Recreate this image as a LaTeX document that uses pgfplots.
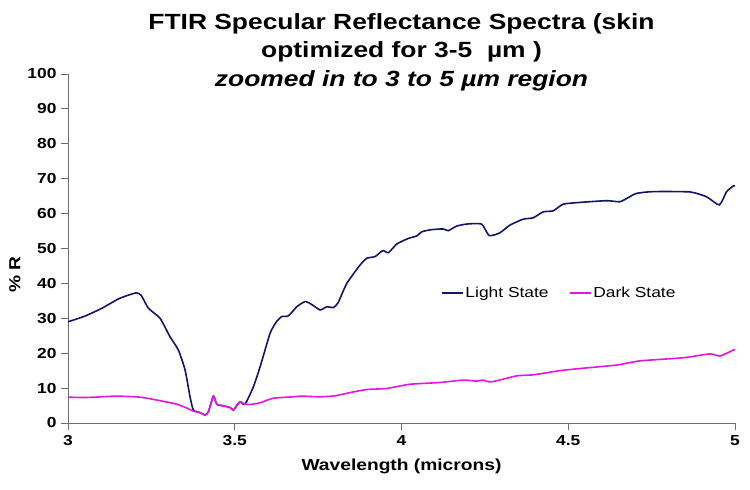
\documentclass[border=0pt]{standalone}
\usepackage{fontspec}
\setmainfont{Liberation Sans}[FakeStretch=1.2]
\usepackage{pgfplots}
\pgfplotsset{compat=1.18}
\definecolor{lightc}{RGB}{20,20,110}
\definecolor{darkc}{RGB}{230,20,230}
\definecolor{axc}{RGB}{110,110,110}
\begin{document}
\begin{tikzpicture}
\begin{axis}[
  name=ax,
  scale only axis,
  width=667pt, height=349pt,
  xmin=3, xmax=5, ymin=0, ymax=100,
  axis x line=bottom, axis y line=left,
  axis line style={-, axc, line width=0.8pt},
  tick style={axc, line width=0.8pt},
  tick align=outside,
  major tick length=7pt,
  xtick={3,3.5,4,4.5,5},
  ytick={0,10,...,100},
  /pgf/number format/assume math mode=true,
  ticklabel style={font=\fontsize{14.5}{16}\selectfont\bfseries},
  xticklabel style={yshift=-2pt},
  yticklabel style={xshift=-1pt},
  xlabel={Wavelength (microns)},
  xlabel style={font=\fontsize{16}{18}\selectfont\bfseries, yshift=-6pt},
  ylabel={\% R},
  ylabel style={font=\fontsize{16}{18}\selectfont\bfseries, at={(ticklabel cs:0.425)}},
  legend columns=2,
  legend style={at={(axis cs:4.11,37.2)}, anchor=west, draw=none, fill=none,
    font=\fontsize{14.5}{16}\selectfont,
    /tikz/every even column/.append style={column sep=19pt},
    nodes={inner sep=1.5pt}},
  legend image code/.code={\draw[#1] (0pt,0pt) -- (21pt,0pt);},
  clip=false,
]
\addplot[lightc, line width=1.6pt, smooth, tension=0.35] coordinates {
(3.00,29.0)(3.05,30.6)(3.10,32.8)(3.15,35.5)(3.18,36.6)(3.206,37.3)(3.22,36.5)
(3.241,32.9)(3.276,30.0)(3.306,24.7)(3.331,20.9)(3.351,15.2)(3.366,7.5)(3.376,3.7)
(3.395,3.0)(3.411,2.3)(3.421,3.2)(3.436,7.7)(3.446,5.4)(3.466,4.9)(3.485,4.5)
(3.496,3.7)(3.506,5.0)(3.516,6.1)(3.531,5.4)
(3.556,10.4)(3.576,16.1)(3.606,25.7)(3.625,29.0)(3.641,30.5)(3.661,30.7)
(3.686,33.3)(3.711,34.8)(3.73,34.0)(3.756,32.4)(3.776,33.3)(3.796,33.1)(3.81,34.5)
(3.836,40.0)(3.876,45.3)(3.896,47.2)(3.921,47.7)(3.944,49.4)(3.961,48.8)
(3.986,51.3)(4.021,52.9)(4.046,53.6)(4.061,54.8)(4.09,55.4)(4.125,55.6)
(4.140,55.1)(4.165,56.4)(4.195,57.0)(4.240,57.0)(4.263,53.7)(4.295,54.5)
(4.325,56.7)(4.365,58.4)(4.395,58.8)(4.425,60.5)(4.455,60.8)(4.485,62.7)
(4.535,63.2)(4.615,63.7)(4.655,63.4)(4.68,64.6)(4.705,65.8)(4.755,66.3)
(4.865,66.2)(4.915,64.8)(4.953,62.5)(4.975,66.3)(4.995,67.9)(5.0,68.0)
};
\addlegendentry{Light State}
\addplot[darkc, line width=1.6pt, smooth, tension=0.35] coordinates {
(3.00,7.4)(3.05,7.3)(3.10,7.5)(3.146,7.7)(3.216,7.4)(3.276,6.4)(3.326,5.4)
(3.356,4.3)(3.376,3.4)(3.395,3.0)(3.411,2.3)(3.421,3.2)(3.436,7.7)(3.446,5.4)
(3.466,4.9)(3.485,4.5)(3.496,3.7)(3.506,5.0)(3.516,6.1)(3.531,5.4)(3.546,5.3)
(3.576,5.8)(3.616,7.1)(3.676,7.5)(3.70,7.7)(3.756,7.5)(3.801,7.8)(3.85,8.8)
(3.896,9.6)(3.956,9.9)(4.025,11.1)(4.115,11.6)(4.185,12.3)(4.225,12.0)
(4.243,12.3)(4.270,11.8)(4.345,13.5)(4.395,13.8)(4.475,15.0)(4.545,15.7)
(4.645,16.6)(4.715,17.8)(4.845,18.7)(4.925,19.8)(4.955,19.2)(4.995,20.9)(5.0,21.0)
};
\addlegendentry{Dark State}
\coordinate (bl) at (rel axis cs:0,0);
\coordinate (tc) at (rel axis cs:0.5,1);
\end{axis}
\node[anchor=base, font=\fontsize{22}{24}\selectfont\bfseries] at ([yshift=44pt]tc) {FTIR Specular Reflectance Spectra (skin};
\node[anchor=base, font=\fontsize{22}{24}\selectfont\bfseries] at ([yshift=16pt]tc) {optimized for 3-5~~µm )};
\node[anchor=base, font=\fontsize{22}{24}\selectfont\bfseries\itshape] at ([yshift=-13pt]tc) {zoomed in to 3 to 5 µm region};
\pgfresetboundingbox
\path[use as bounding box] (bl) ++(-68pt,-67pt) rectangle ++(750pt,490pt);
\end{tikzpicture}
\end{document}
